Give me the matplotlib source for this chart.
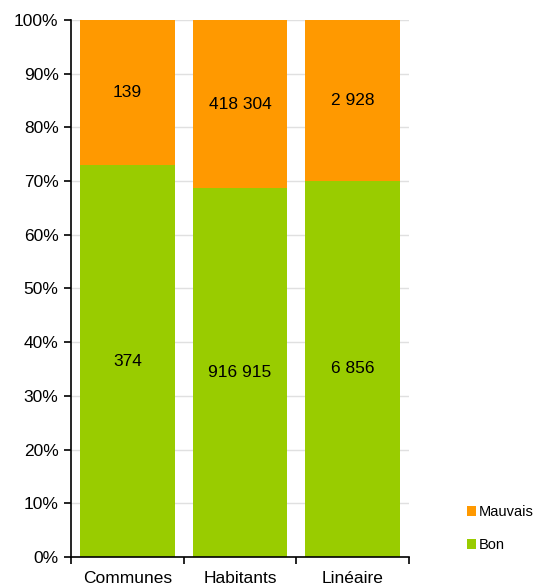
import matplotlib.pyplot as plt
from matplotlib.ticker import FuncFormatter, FixedLocator

plt.rcParams['font.family'] = ['Liberation Sans', 'DejaVu Sans']

categories = ['Communes', 'Habitants', 'Linéaire']
bon = [374, 916915, 6856]
mauvais = [139, 418304, 2928]
bon_labels = ['374', '916 915', '6 856']
mauvais_labels = ['139', '418 304', '2 928']

green = '#99cc00'
orange = '#ff9900'

totals = [b + m for b, m in zip(bon, mauvais)]
bon_pct = [b / t * 100 for b, t in zip(bon, totals)]
mau_pct = [m / t * 100 for m, t in zip(mauvais, totals)]

fig = plt.figure(figsize=(5.36, 5.86), dpi=100)
ax = fig.add_axes([0.1325, 0.0495, 0.6306, 0.9165])

x = list(range(len(categories)))
width = 0.84
b1 = ax.bar(x, bon_pct, width, color=green, label='Bon', zorder=2)
b2 = ax.bar(x, mau_pct, width, bottom=bon_pct, color=orange, label='Mauvais', zorder=2)

for i in x:
    ax.text(i, bon_pct[i] / 2, bon_labels[i], ha='center', va='center', fontsize=12.5)
    ax.text(i, bon_pct[i] + mau_pct[i] / 2, mauvais_labels[i], ha='center', va='center', fontsize=12.5)

ax.set_xlim(-0.5, 2.5)
ax.set_ylim(0, 100)
ax.set_yticks(range(0, 101, 10))
ax.yaxis.set_major_formatter(FuncFormatter(lambda v, p: f'{int(v)}%'))
ax.set_xticks(x)
ax.set_xticklabels(categories, fontsize=12.5)
ax.tick_params(axis='x', which='major', length=0, pad=10)
ax.xaxis.set_minor_locator(FixedLocator([-0.5, 0.5, 1.5, 2.5]))
ax.tick_params(axis='x', which='minor', length=5, width=1.2, direction='out')
ax.tick_params(axis='y', length=5, width=1.2, labelsize=12.5, pad=4)
ax.grid(axis='y', color='#e0e0e0', linewidth=1, zorder=0)
for s in ['top', 'right']:
    ax.spines[s].set_visible(False)
ax.spines['left'].set_linewidth(1.2)
ax.spines['bottom'].set_linewidth(1.2)

handles = [b2, b1]
fig.legend(handles, ['Mauvais', 'Bon'], loc='center left', bbox_to_anchor=(0.872, 0.098),
           frameon=False, fontsize=10.5, handlelength=0.6, handleheight=0.6,
           handletextpad=0.15, labelspacing=1.3, borderaxespad=0, borderpad=0)

fig.savefig('out.png', dpi=100)
